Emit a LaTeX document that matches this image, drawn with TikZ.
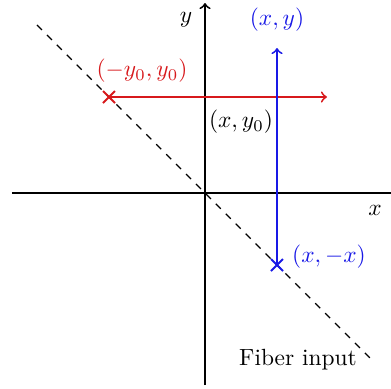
\documentclass[tikz,border=0pt]{standalone}
\usepackage{amsmath}
\usetikzlibrary{calc}
\definecolor{myred}{RGB}{215,25,28}
\definecolor{myblue}{RGB}{25,25,230}
\begin{document}
\begin{tikzpicture}[x=0.427pt,y=0.427pt,
  axis/.style={line width=0.8pt},
  ray/.style={line width=0.8pt,->},
  crossmark/.style={line width=0.8pt}]
\useasboundingbox (-205,-195) rectangle (186,193);
% axes
\coordinate (xl) at (-193,0);
\coordinate (xr) at (190,0);
\coordinate (yb) at (0,-192);
\coordinate (yt) at (0,190);
\draw[axis] (xl) -- (xr);
\draw[axis,->] (yb) -- (yt);
% diagonal
\coordinate (d1) at (-168,168);
\coordinate (d2) at (167,-167);
\draw[dashed,line width=0.5pt] (d1) -- (d2);
% red
\coordinate (rc) at (-96,96);
\coordinate (rt) at (122,96);
\draw[ray,myred] (rc) -- (rt);
\draw[crossmark,myred] ($(rc)+(-6,-6)$) -- ($(rc)+(6,6)$) ($(rc)+(-6,6)$) -- ($(rc)+(6,-6)$);
% blue
\coordinate (bc) at (72,-72);
\coordinate (bt) at (72,145);
\draw[ray,myblue] (bc) -- (bt);
\draw[crossmark,myblue] ($(bc)+(-6,-6)$) -- ($(bc)+(6,6)$) ($(bc)+(-6,6)$) -- ($(bc)+(6,-6)$);
% labels
\node (ly) at (-19,173) {$y$};
\node (lx) at (170,-17) {$x$};
\node[text=myblue] (lxy) at (72,173) {$(x,y)$};
\node[text=myred] (lry) at (-63,122) {$(-y_0,y_0)$};
\node (lxy0) at (36,71) {$(x,y_0)$};
\node[text=myblue] (lxmx) at (124,-64) {$(x,-x)$};
\node (fib) at (93,-167) {Fiber input};
\end{tikzpicture}
\end{document}
